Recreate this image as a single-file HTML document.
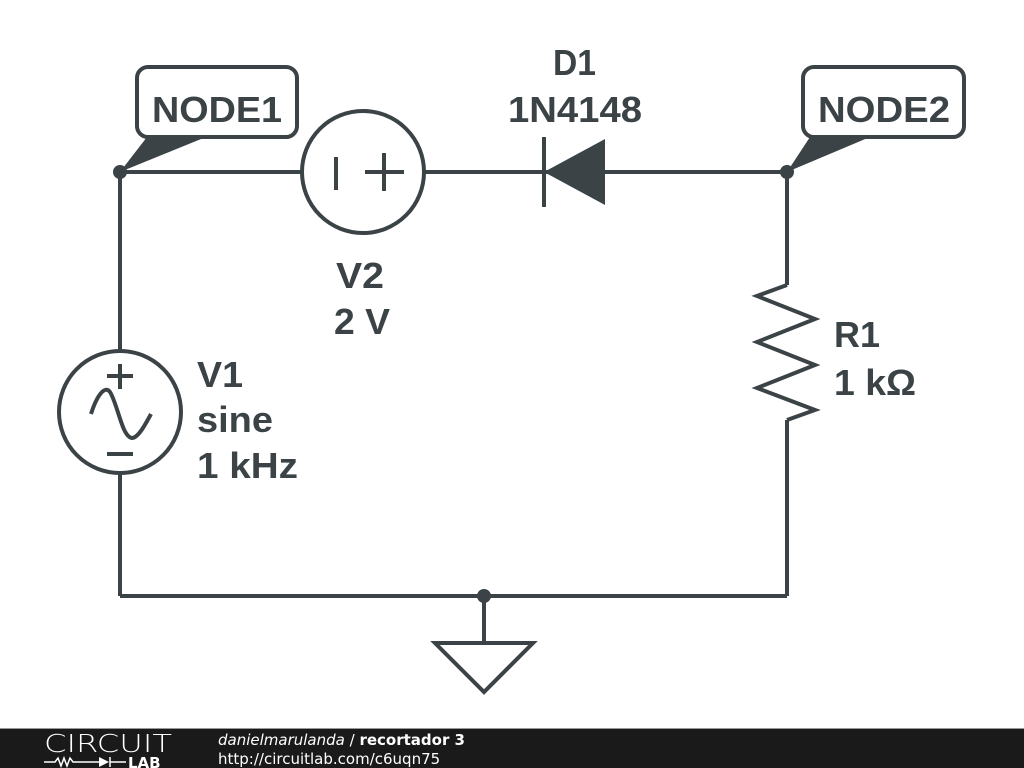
<!DOCTYPE html>
<html><head><meta charset="utf-8"><style>
body{margin:0;width:1024px;height:768px;background:#fff;overflow:hidden;position:relative}
svg{position:absolute;left:0;top:0}
</style></head><body>
<svg width="1024" height="768" viewBox="0 0 1024 768">
<g stroke="#3b4347" stroke-width="4" fill="none" stroke-linejoin="miter">
<line x1="120" y1="172" x2="301" y2="172"/>
<line x1="425" y1="172" x2="787" y2="172"/>
<line x1="120" y1="172" x2="120" y2="351"/>
<line x1="120" y1="473" x2="120" y2="596"/>
<line x1="120" y1="596" x2="787" y2="596"/>
<line x1="787" y1="172" x2="787" y2="285"/>
<line x1="787" y1="420" x2="787" y2="596"/>
<polyline points="787,285 757,296 815,319 757,342 815,365 757,388 815,410 787,420"/>
<line x1="484" y1="596" x2="484" y2="643"/>
<polygon points="435,643 533,643 484,692"/>
<circle cx="363" cy="172" r="61"/>
<line x1="336" y1="157" x2="336" y2="190"/>
<line x1="365" y1="172" x2="404" y2="172"/>
<line x1="384" y1="153" x2="384" y2="191"/>
<circle cx="120" cy="412" r="61"/>
<line x1="107" y1="376" x2="133" y2="376"/>
<line x1="120" y1="364" x2="120" y2="389"/>
<line x1="107" y1="454" x2="133" y2="454"/>
<path d="M91,414 C97,395 105,385 110,392 C118,405 122,437 132,438 C138,438 145,425 151,414"/>
<line x1="544" y1="137" x2="544" y2="207"/>
<rect x="137" y="67" width="160" height="70" rx="11"/>
<rect x="803" y="67" width="161" height="70" rx="11"/>
</g>
<g fill="#3b4347">
<polygon points="544,172 605,139 605,205"/>
<circle cx="120" cy="172" r="7"/>
<circle cx="787" cy="172" r="7"/>
<circle cx="484" cy="596" r="7"/>
<polygon points="120,172 147,137 206,137"/>
<polygon points="787,172 810,137 870,137"/>
</g>
<g fill="#3b4347" font-family="Liberation Sans, sans-serif" font-weight="bold" font-size="36">
<text x="152" y="122" textLength="130" lengthAdjust="spacingAndGlyphs">NODE1</text>
<text x="818" y="122" textLength="132" lengthAdjust="spacingAndGlyphs">NODE2</text>
<text x="553" y="75" textLength="43" lengthAdjust="spacingAndGlyphs">D1</text>
<text x="508" y="122" textLength="134" lengthAdjust="spacingAndGlyphs">1N4148</text>
<text x="336" y="288" textLength="48" lengthAdjust="spacingAndGlyphs">V2</text>
<text x="334" y="334" textLength="56" lengthAdjust="spacingAndGlyphs">2 V</text>
<text x="834" y="347" textLength="46" lengthAdjust="spacingAndGlyphs">R1</text>
<text x="834" y="395" textLength="82" lengthAdjust="spacingAndGlyphs">1 kΩ</text>
<text x="197" y="387" textLength="46" lengthAdjust="spacingAndGlyphs">V1</text>
<text x="197" y="432" textLength="76" lengthAdjust="spacingAndGlyphs">sine</text>
<text x="197" y="478" textLength="101" lengthAdjust="spacingAndGlyphs">1 kHz</text>
</g>
<rect x="0" y="729" width="1024" height="39" fill="#1a1a1a"/>
<rect x="0" y="728" width="1024" height="1" fill="#999"/>
<text x="44" y="752" fill="#fff" font-family="DejaVu Sans, sans-serif" font-size="25" font-weight="200" textLength="128" lengthAdjust="spacingAndGlyphs">CIRCUIT</text>
<g stroke="#fff" stroke-width="1.5" fill="none">
<polyline points="44,762 55,762 58,758 61,766 64,758 67,766 70,758 73,762 99,762"/>
<line x1="110" y1="757" x2="110" y2="767"/>
<line x1="110" y1="762" x2="126" y2="762"/>
</g>
<polygon points="99,757 99,767 109,762" fill="#fff"/>
<text x="128" y="768" fill="#fff" font-family="DejaVu Sans, sans-serif" font-size="15" font-weight="bold">LAB</text>
<text x="218" y="745" fill="#fff" font-family="DejaVu Sans, sans-serif" font-size="15"><tspan font-style="italic">danielmarulanda</tspan> / <tspan font-weight="bold">recortador 3</tspan></text>
<text x="218" y="764" fill="#fff" font-family="DejaVu Sans, sans-serif" font-size="15">http://circuitlab.com/c6uqn75</text>
</svg>
</body></html>
